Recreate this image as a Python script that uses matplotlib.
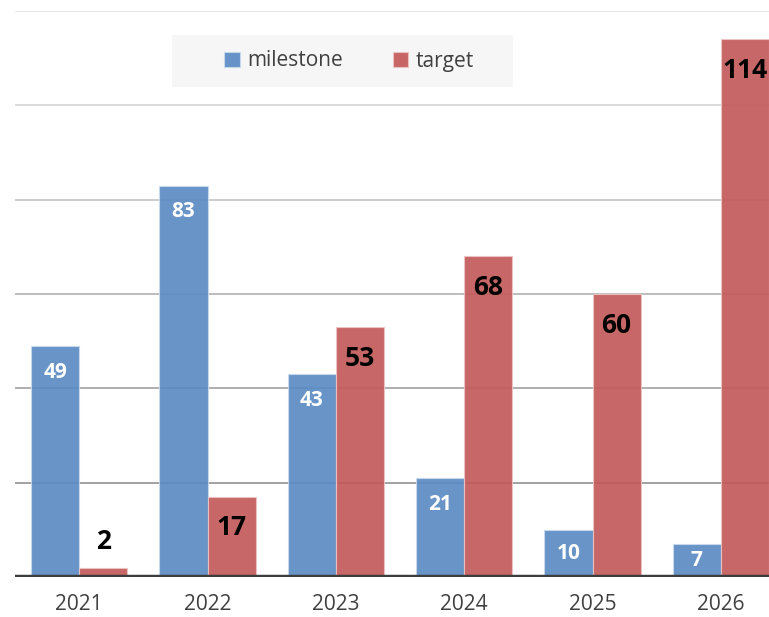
import numpy as np
import matplotlib
matplotlib.use("Agg")
import matplotlib.pyplot as plt
from matplotlib.patches import Rectangle

years = ["2021", "2022", "2023", "2024", "2025", "2026"]
milestone = [49, 83, 43, 21, 10, 7]
target = [2, 17, 53, 68, 60, 114]

grid_vals = [20, 40, 60, 80, 100, 120]
grid_cols = ["#9a9a9a", "#a8a8a8", "#b8b8b8", "#c8c8c8", "#d8d8d8", "#e4e4e4"]

blue = "#5b8bc4"
red = "#c45a5a"

plt.rcParams['font.family'] = ['Open Sans', 'DejaVu Sans']

fig = plt.figure(figsize=(7.69, 6.17), dpi=100)
ax = fig.add_axes([15 / 769, 40 / 617, 770 / 769, 566 / 617])

x = np.arange(len(years))
w = 0.375

for g, c in zip(grid_vals, grid_cols):
    ax.axhline(g, color=c, lw=1.3, zorder=0)

ax.bar(x - w / 2, milestone, w, color=blue, alpha=0.92, edgecolor="#c9d9ee", lw=0.8, zorder=2, label="milestone")
ax.bar(x + w / 2, target, w, color=red, alpha=0.92, edgecolor="#ecc4c4", lw=0.8, zorder=2, label="target")

ax.axhline(0, color="#3c3c3c", lw=3.2, zorder=3)

# value labels
for i, v in enumerate(milestone):
    y = max(v - 5.6, v / 2)
    ax.text(x[i] - w / 2, y, str(v), ha="center", va="center", color="white",
            fontsize=15, fontweight="bold", zorder=4)
for i, v in enumerate(target):
    y = v - 6.6 if v > 12 else v + 5.5
    ax.text(x[i] + w / 2, y, str(v), ha="center", va="center", color="black",
            fontsize=19, fontweight="bold", zorder=4)

ax.set_xlim(-0.5, 5.5)
ax.set_ylim(0, 120)
ax.set_xticks(x)
ax.set_xticklabels(years, fontsize=15, color="#404040")
ax.tick_params(axis="x", length=0, pad=12)
ax.set_yticks([])
for s in ax.spines.values():
    s.set_visible(False)

# legend box
fig.patches.append(Rectangle((172 / 769, 1 - 87 / 617), 341 / 769, 52 / 617,
                             transform=fig.transFigure, facecolor="#f6f6f6",
                             edgecolor="none", zorder=5))
leg = fig.legend(loc="center", bbox_to_anchor=(349 / 769, 1 - 61 / 617), ncol=2,
                 frameon=False, fontsize=15, handlelength=0.75, handleheight=0.75,
                 handletextpad=0.35, columnspacing=2.4)
for t in leg.get_texts():
    t.set_color("#404040")
leg.set_zorder(6)

fig.savefig("out.png", dpi=100)
